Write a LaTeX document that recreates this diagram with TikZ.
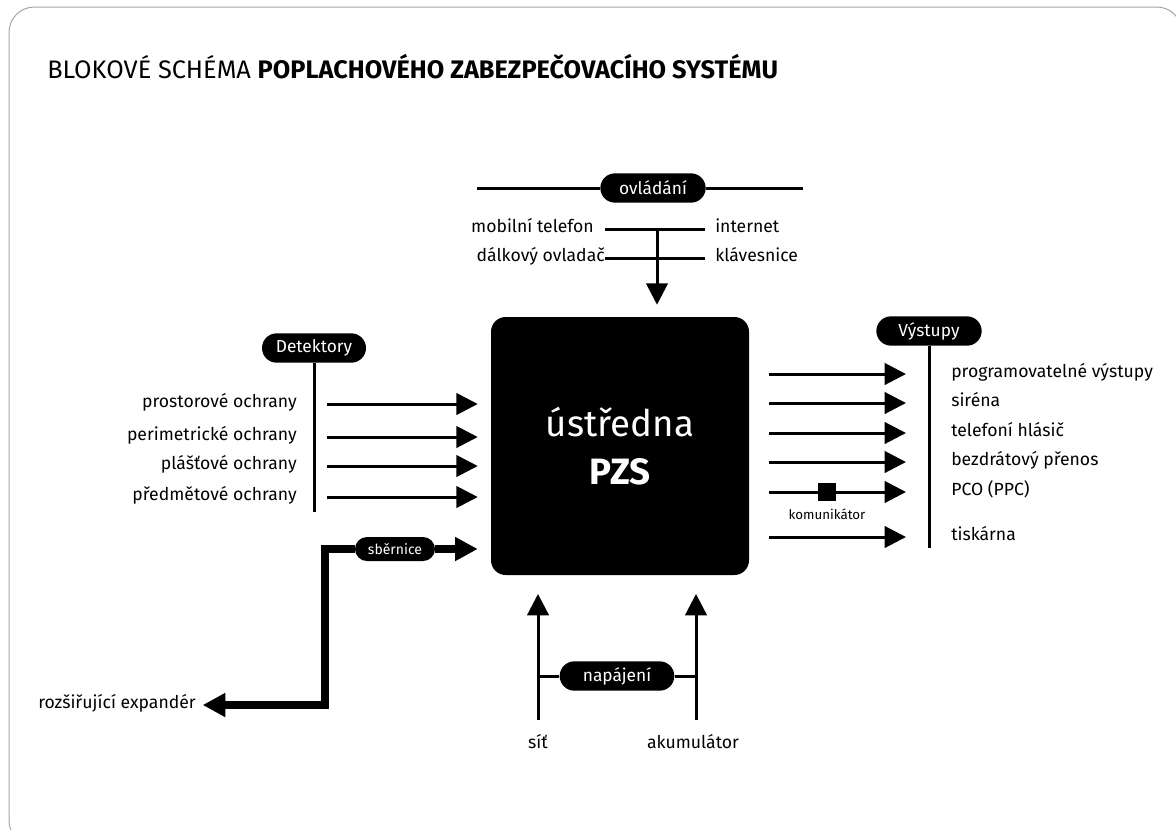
\documentclass[tikz,border=0pt]{standalone}
\usepackage{fontspec}
\setmainfont{Fira Sans}
\usetikzlibrary{arrows.meta,shapes.misc}
\begin{document}
\begin{tikzpicture}[x=0.75pt,y=-0.75pt,
  conn/.style={line width=2.25pt},
  arr/.style={line width=2.25pt,-{Triangle[length=16pt,width=16pt]}},
  busarr/.style={line width=5.5pt,line join=miter,-{Triangle[length=17pt,width=17pt]}},
  pill/.style={rounded rectangle, fill=black, text=white, inner sep=0pt,
    font=\fontsize{13}{15}\selectfont, minimum height=22pt},
  lbl/.style={font=\fontsize{13.2}{15}\selectfont, inner sep=0pt},
  block/.style={fill=black, text=white, rounded corners=11pt, minimum width=193.5pt,
    minimum height=193.5pt, inner sep=0pt, align=center, font=\fontsize{27.5}{36}\selectfont},
  frame/.style={draw=black!35, line width=0.75pt, rounded corners=19pt}
]
\useasboundingbox (0,0) rectangle (1176,829);
\draw[frame] (9,7) rectangle (1182,846);

% title
\node[anchor=base west, inner sep=0pt, font=\fontsize{19}{22}\selectfont] (title) at (47,78)
  {BLOKOVÉ SCHÉMA \textbf{POPLACHOVÉHO ZABEZPEČOVACÍHO SYSTÉMU}};

% central block
\node[block] (pzs) at (620,446) {ústředna\\\textbf{PZS}};

% top: ovládání
\node[pill, minimum width=79pt] (ovl) at (653,188) {ovládání};
\coordinate (ovlL) at (477,188);
\coordinate (ovlR) at (803,188);
\draw[conn] (ovlL) -- (ovl.west);
\draw[conn] (ovl.east) -- (ovlR);
\node[lbl, anchor=mid east] (mob) at (594,229) {mobilní telefon};
\node[lbl, anchor=mid west] (int) at (715,229) {internet};
\node[lbl, anchor=mid east] (dal) at (605,258) {dálkový ovladač};
\node[lbl, anchor=mid west] (kla) at (715,258) {klávesnice};
\draw[conn] ([shift={(11,0)}]mob.mid east) -- ([shift={(-10,0)}]int.mid west);
\draw[conn] (dal.mid east) -- ([shift={(-10,0)}]kla.mid west);
\coordinate (vtop) at (657,229);
\draw[arr, shorten >=9pt] (vtop) -- (vtop |- pzs.north);

% left: detektory
\node[pill, minimum width=78pt] (det) at (314,348) {Detektory};
\coordinate (detB) at (314,512);
\draw[conn] (det.south) -- (detB);
\foreach \y/\t/\n in {404/prostorové ochrany/a, 437/perimetrické ochrany/b,
                      466/plášťové ochrany/c, 497/předmětové ochrany/d}{
  \node[lbl, anchor=mid east] (L\n) at (297,\y) {\t};
  \draw[arr, shorten >=9.75pt] ([shift={(30,0)}]L\n.mid east) -- (L\n.mid east -| pzs.west);
}

% right: výstupy
\node[pill, minimum width=79pt] (vys) at (929,331) {Výstupy};
\coordinate (vysB) at (929,548);
\draw[conn] (vys.south) -- (vysB);
\foreach \y/\t/\n in {374/programovatelné výstupy/a, 403/siréna/b, 433/telefoní hlásič/c,
                      462/bezdrátový přenos/d, 492/PCO (PPC)/e, 537/tiskárna/f}{
  \node[lbl, anchor=mid west] (R\n) at (951,\y) {\t};
  \draw[arr] ([shift={(20,0)}]pzs.east |- R\n.mid west) -- ([shift={(-45,0)}]R\n.mid west);
}
\node[fill=black, minimum size=14pt, inner sep=0pt] (kom) at (827,492) {};
\node[inner sep=0pt, font=\fontsize{10}{12}\selectfont] (komL) at (827,514) {komunikátor};

% bottom: napájení
\node[pill, minimum width=86pt] (nap) at (617,676) {napájení};
\node[lbl, anchor=mid] (sit) at (538,745) {síť};
\node[lbl, anchor=mid] (aku) at (693,745) {akumulátor};
\coordinate (s0) at (538,720);
\coordinate (a0) at (696,720);
\draw[arr, shorten >=14pt] (s0) -- (s0 |- pzs.south);
\draw[arr, shorten >=14pt] (a0) -- (a0 |- pzs.south);
\draw[conn] (nap.west) -- (s0 |- nap.west);
\draw[conn] (nap.east) -- (a0 |- nap.east);

% sběrnice
\node[pill, minimum width=60pt, minimum height=18pt, font=\fontsize{10.5}{12}\selectfont] (sb) at (395,549) {sběrnice};
\node[lbl, anchor=mid east] (exp) at (196,705) {rozšiřující expandér};
\coordinate (b1) at (325,549);
\coordinate (b2) at (325,705);
\draw[busarr, shorten >=9.75pt] (sb.east) -- (sb.east -| pzs.west);
\draw[busarr, shorten >=5pt] (sb.west) -- (b1) -- (b2) -- (exp.mid east);
\end{tikzpicture}
\end{document}
